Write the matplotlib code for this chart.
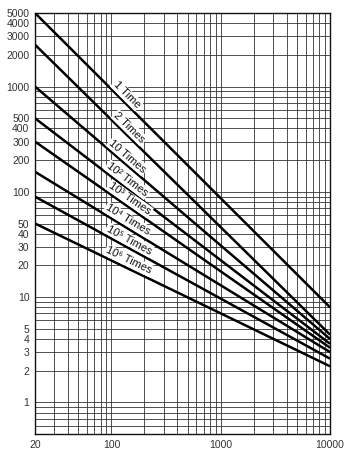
import matplotlib
matplotlib.use('Agg')
import matplotlib.pyplot as plt
from matplotlib.ticker import LogLocator, NullFormatter, FixedLocator
import numpy as np

# x range of every curve and its end values
x_ends = [20, 10000]
curve_names = ['1 Time', '2 Times', '10 Times', '10² Times', '10³ Times',
               '10⁴ Times', '10⁵ Times', '10⁶ Times']
y_start = [5000, 2500, 1000, 500, 300, 155, 90, 50]
y_end = [8, 4.4, 4.0, 3.6, 3.3, 3.0, 2.6, 2.2]
label_x = [128, 136, 131, 131, 138, 134, 138, 138]

yticks = [1, 2, 3, 4, 5, 10, 20, 30, 40, 50, 100, 200, 300, 400, 500,
          1000, 2000, 3000, 4000, 5000]
xticks = [20, 100, 1000, 10000]

fig = plt.figure(figsize=(3.52, 4.5), dpi=100)
ax = fig.add_axes([35/352, 1-434/450, 295/352, 421/450])
ax.set_xscale('log')
ax.set_yscale('log')
ax.set_xlim(20, 10000)
ax.set_ylim(0.5, 5000)

ax.xaxis.set_major_locator(FixedLocator(xticks))
ax.yaxis.set_major_locator(FixedLocator(yticks))
ax.set_xticklabels([str(v) for v in xticks])
ax.set_yticklabels([str(v) for v in yticks])
ax.xaxis.set_minor_locator(LogLocator(base=10, subs=np.arange(1, 10)))
ax.yaxis.set_minor_locator(LogLocator(base=10, subs=np.arange(1, 10)))
ax.xaxis.set_minor_formatter(NullFormatter())
ax.yaxis.set_minor_formatter(NullFormatter())
ax.tick_params(which='both', length=0, labelsize=7.5, labelcolor='#333333', pad=4)
for lab in ax.get_xticklabels() + ax.get_yticklabels():
    lab.set_family(['Liberation Sans', 'DejaVu Sans'])

ax.grid(True, which='both', color='#333333', lw=0.6, zorder=0)
ax.set_axisbelow(True)
for s in ax.spines.values():
    s.set_linewidth(1.0)
    s.set_color('#111111')

fig.canvas.draw()
for i in range(len(curve_names)):
    ax.plot(x_ends, [y_start[i], y_end[i]], color='black', lw=1.8, zorder=3,
            solid_capstyle='butt')
    # text angle follows the line on screen
    p0 = ax.transData.transform((x_ends[0], y_start[i]))
    p1 = ax.transData.transform((x_ends[1], y_end[i]))
    ang = np.degrees(np.arctan2(p1[1]-p0[1], p1[0]-p0[0]))
    xl = label_x[i]
    yl = 10**np.interp(np.log10(xl), np.log10(x_ends),
                       [np.log10(y_start[i]), np.log10(y_end[i])])
    ax.annotate(curve_names[i], (xl, yl), xytext=(0, 2), textcoords='offset points',
                rotation=ang, rotation_mode='anchor', ha='center', va='bottom',
                fontsize=8, color='#111111', family=['Liberation Sans', 'DejaVu Sans'],
                bbox=dict(facecolor='white', edgecolor='none', pad=0.8), zorder=4)

fig.savefig('out.png', dpi=100)
